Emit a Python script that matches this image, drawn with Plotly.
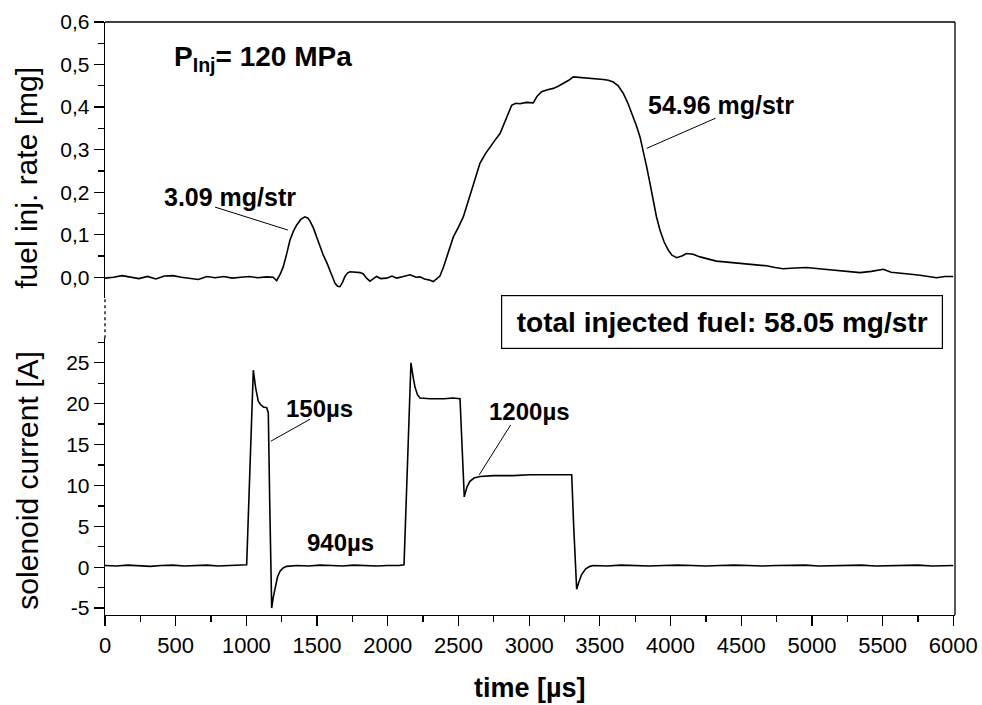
import plotly.graph_objects as go

# ---------------- data ----------------
time_fuel = [0, 60, 120, 180, 240, 300, 360, 420, 480, 540, 600, 660, 720, 780, 840, 900, 960,
             1020, 1080, 1140, 1190, 1214, 1240, 1261, 1285, 1308, 1332, 1356, 1385, 1414, 1435,
             1450, 1475, 1497, 1520, 1544, 1568, 1591, 1610, 1627, 1645, 1662, 1680, 1697, 1715,
             1733, 1760, 1780, 1805, 1827, 1850, 1874, 1900, 1921, 1950, 1992, 2030, 2063, 2110,
             2157, 2200, 2228, 2260, 2290, 2322, 2345, 2369, 2395, 2417, 2440, 2464, 2500, 2534,
             2570, 2605, 2630, 2652, 2690, 2723, 2760, 2794, 2820, 2841, 2860, 2876, 2905, 2935,
             2980, 3029, 3055, 3088, 3130, 3171, 3205, 3242, 3280, 3312, 3360, 3407, 3460, 3524,
             3560, 3595, 3630, 3666, 3700, 3737, 3760, 3784, 3808, 3831, 3855, 3878, 3900, 3925,
             3955, 3984, 4010, 4043, 4080, 4113, 4140, 4160, 4208, 4254, 4290, 4325, 4400, 4491,
             4580, 4679, 4740, 4797, 4880, 4962, 5050, 5151, 5250, 5340, 5420, 5505, 5560, 5623,
             5700, 5764, 5820, 5882, 5940, 6000]
fuel_rate = [-0.002, 0.000, 0.004, 0.001, -0.003, 0.002, -0.004, 0.003, 0.004, 0.000, -0.003,
             -0.005, 0.002, -0.001, 0.002, -0.002, 0.000, 0.002, -0.001, 0.001, 0.000, -0.008,
             0.008, 0.025, 0.055, 0.087, 0.108, 0.123, 0.136, 0.142, 0.139, 0.132, 0.115, 0.095,
             0.073, 0.052, 0.035, 0.018, 0.000, -0.014, -0.021, -0.022, -0.012, 0.002, 0.010,
             0.013, 0.012, 0.013, 0.011, 0.008, -0.002, -0.009, -0.002, 0.002, -0.003, -0.002,
             0.003, -0.002, 0.002, 0.006, 0.000, 0.001, -0.004, -0.006, -0.010, -0.004, 0.003,
             0.025, 0.048, 0.075, 0.095, 0.118, 0.142, 0.180, 0.220, 0.248, 0.268, 0.290, 0.307,
             0.323, 0.338, 0.360, 0.377, 0.395, 0.404, 0.409, 0.408, 0.411, 0.410, 0.425, 0.436,
             0.441, 0.444, 0.449, 0.455, 0.463, 0.471, 0.470, 0.469, 0.467, 0.465, 0.463, 0.459,
             0.450, 0.432, 0.408, 0.377, 0.355, 0.330, 0.296, 0.260, 0.220, 0.181, 0.143, 0.111,
             0.083, 0.064, 0.052, 0.046, 0.050, 0.056, 0.055, 0.054, 0.048, 0.045, 0.041, 0.038,
             0.036, 0.033, 0.030, 0.027, 0.023, 0.020, 0.022, 0.023, 0.020, 0.017, 0.015, 0.011,
             0.014, 0.019, 0.012, 0.009, 0.007, 0.005, 0.002, -0.001, 0.002, 0.002]

time_current = [0, 80, 160, 240, 320, 400, 480, 560, 640, 720, 800, 880, 960, 1002, 1025, 1049,
                1065, 1084, 1100, 1120, 1144, 1155, 1165, 1179, 1190, 1202, 1220, 1238, 1260,
                1285, 1360, 1440, 1520, 1600, 1680, 1760, 1840, 1920, 2000, 2080, 2115, 2140,
                2164, 2180, 2193, 2210, 2228, 2300, 2400, 2460, 2511, 2520, 2541, 2560, 2581,
                2610, 2652, 2750, 2888, 3000, 3150, 3301, 3315, 3336, 3350, 3371, 3400, 3430,
                3454, 3550, 3650, 3750, 3850, 3950, 4050, 4150, 4250, 4350, 4450, 4550, 4650,
                4750, 4850, 4950, 5050, 5150, 5250, 5350, 5450, 5550, 5650, 5750, 5850, 5950, 6000]
current = [0.2, 0.15, 0.25, 0.2, 0.1, 0.2, 0.25, 0.15, 0.2, 0.25, 0.15, 0.2, 0.2, 0.3, 12.0, 24.1,
           22.0, 20.3, 19.9, 19.6, 19.5, 18.9, 8.0, -5.0, -3.7, -2.5, -1.2, -0.5, -0.1,
           0.1, 0.2, 0.15, 0.25, 0.2, 0.15, 0.25, 0.2, 0.15, 0.2, 0.2, 0.3, 12.5,
           25.0, 23.2, 22.0, 21.1, 20.7, 20.6, 20.6, 20.7, 20.6, 17.0, 8.6, 9.8, 10.5,
           10.9, 11.1, 11.2, 11.2, 11.3, 11.3, 11.3, 5.0, -2.7, -1.9, -0.9, -0.2, 0.1,
           0.2, 0.15, 0.25, 0.2, 0.15, 0.2, 0.25, 0.2, 0.15, 0.2, 0.25, 0.2, 0.15,
           0.2, 0.2, 0.25, 0.15, 0.2, 0.2, 0.25, 0.15, 0.2, 0.2, 0.25, 0.15, 0.2, 0.2]

x_tick_vals = [0, 500, 1000, 1500, 2000, 2500, 3000, 3500, 4000, 4500, 5000, 5500, 6000]
x_tick_text = ["0", "500", "1000", "1500", "2000", "2500", "3000", "3500", "4000", "4500",
               "5000", "5500", "6000"]
x_minor_vals = [250, 750, 1250, 1750, 2250, 2750, 3250, 3750, 4250, 4750, 5250, 5750]
fuel_tick_vals = [0.0, 0.1, 0.2, 0.3, 0.4, 0.5, 0.6]
fuel_tick_text = ["0,0", "0,1", "0,2", "0,3", "0,4", "0,5", "0,6"]
fuel_minor_vals = [-0.05, 0.05, 0.15, 0.25, 0.35, 0.45, 0.55]
cur_tick_vals = [-5, 0, 5, 10, 15, 20, 25]
cur_tick_text = ["-5", "0", "5", "10", "15", "20", "25"]
cur_minor_vals = [-2.5, 2.5, 7.5, 12.5, 17.5, 22.5, 27.5]

# ---------------- figure ----------------
FONT = "Liberation Sans, Arial, Helvetica, sans-serif"
BLACK = "black"

fig = go.Figure()
fig.add_trace(go.Scatter(x=time_fuel, y=fuel_rate, xaxis="x2", yaxis="y2", mode="lines",
                         line=dict(color=BLACK, width=1.6), showlegend=False, hoverinfo="skip"))
fig.add_trace(go.Scatter(x=time_current, y=current, xaxis="x", yaxis="y", mode="lines",
                         line=dict(color=BLACK, width=1.6), showlegend=False, hoverinfo="skip"))

BOT_TOP = 0.4666
TOP_BOT = 0.5346

axis_common = dict(showgrid=False, zeroline=False, showline=True, linecolor=BLACK, linewidth=1.3,
                   ticks="outside", ticklen=10, tickwidth=1.3, tickcolor=BLACK,
                   tickmode="array", automargin=False)

fig.update_layout(
    width=982, height=705,
    margin=dict(l=105, r=27, t=22, b=90),
    paper_bgcolor="white", plot_bgcolor="white",
    font=dict(family=FONT, color=BLACK),
    hovermode=False,
    xaxis=dict(domain=[0, 1], range=[0, 6012], anchor="y", tickvals=x_tick_vals,
               ticktext=x_tick_text, tickfont=dict(family=FONT, size=22, color=BLACK),
               minor=dict(tickmode="array", tickvals=x_minor_vals, ticks="outside", ticklen=6,
                          tickwidth=1.3, tickcolor=BLACK),
               **axis_common),
    xaxis2=dict(domain=[0, 1], range=[0, 6012], anchor="y2", matches="x", visible=False),
    yaxis=dict(domain=[0, BOT_TOP], range=[-5.85, 28.0], anchor="x", tickvals=cur_tick_vals,
               ticktext=cur_tick_text, tickfont=dict(family=FONT, size=21, color=BLACK),
               minor=dict(tickmode="array", tickvals=cur_minor_vals, ticks="outside", ticklen=6,
                          tickwidth=1.3, tickcolor=BLACK),
               **axis_common),
    yaxis2=dict(domain=[TOP_BOT, 1], range=[-0.0486, 0.6], anchor="x2", tickvals=fuel_tick_vals,
                ticktext=fuel_tick_text, tickfont=dict(family=FONT, size=21, color=BLACK),
                minor=dict(tickmode="array", tickvals=fuel_minor_vals, ticks="outside", ticklen=6,
                           tickwidth=1.3, tickcolor=BLACK),
                **axis_common),
)

shapes = [
    # frame: top and right, dotted axis break
    dict(type="line", xref="paper", yref="paper", x0=0, x1=1, y0=1, y1=1,
         line=dict(color=BLACK, width=1.3)),
    dict(type="line", xref="paper", yref="paper", x0=1, x1=1, y0=0, y1=1,
         line=dict(color=BLACK, width=1.3)),
    dict(type="line", xref="paper", yref="paper", x0=0, x1=0, y0=BOT_TOP, y1=TOP_BOT,
         line=dict(color=BLACK, width=1.3, dash="dot")),
    # leader lines
    dict(type="line", xref="x2", yref="y2", x0=778, y0=0.165, x1=1294, y1=0.111,
         line=dict(color=BLACK, width=1)),
    dict(type="line", xref="x2", yref="y2", x0=4319, y0=0.374, x1=3831, y1=0.303,
         line=dict(color=BLACK, width=1)),
    dict(type="line", xref="x", yref="y", x0=1450, y0=18.1, x1=1172, y1=15.4,
         line=dict(color=BLACK, width=1)),
    dict(type="line", xref="x", yref="y", x0=2869, y0=17.4, x1=2647, y1=11.3,
         line=dict(color=BLACK, width=1)),
]

bold = lambda s: "<b>" + s + "</b>"
annotations = [
    dict(text=bold("P<sub>Inj</sub>= 120 MPa"), xref="x2", yref="y2", x=472, y=0.515,
         xanchor="left", yanchor="middle", showarrow=False, font=dict(size=28)),
    dict(text=bold("3.09 mg/str"), xref="x2", yref="y2", x=884, y=0.189,
         xanchor="center", yanchor="middle", showarrow=False, font=dict(size=25)),
    dict(text=bold("54.96 mg/str"), xref="x2", yref="y2", x=4357, y=0.405,
         xanchor="center", yanchor="middle", showarrow=False, font=dict(size=25)),
    dict(text=bold("total injected fuel: 58.05 mg/str"), xref="paper", yref="paper",
         x=0.7255, y=0.4933, xanchor="center", yanchor="middle", showarrow=False,
         font=dict(size=28), width=432, height=44,
         borderpad=4, bordercolor=BLACK, borderwidth=1.2, bgcolor="white"),
    dict(text=bold("150µs"), xref="x", yref="y", x=1517, y=19.4, showarrow=False,
         xanchor="center", yanchor="middle", font=dict(size=24)),
    dict(text=bold("940µs"), xref="x", yref="y", x=1666, y=3.0, showarrow=False,
         xanchor="center", yanchor="middle", font=dict(size=24)),
    dict(text=bold("1200µs"), xref="x", yref="y", x=3002, y=19.0, showarrow=False,
         xanchor="center", yanchor="middle", font=dict(size=24)),
    # axis titles
    dict(text="fuel inj. rate [mg]", xref="paper", yref="paper", x=-0.092, y=0.737,
         textangle=-90, showarrow=False, font=dict(size=30), xanchor="center", yanchor="middle"),
    dict(text="solenoid current [A]", xref="paper", yref="paper", x=-0.091, y=0.226,
         textangle=-90, showarrow=False, font=dict(size=30), xanchor="center", yanchor="middle"),
    dict(text=bold("time [µs]"), xref="paper", yref="paper", x=0.5, y=-0.123,
         showarrow=False, font=dict(size=27), xanchor="center", yanchor="middle"),
]
fig.update_layout(shapes=shapes, annotations=annotations)

# remove the default page margin so the figure sits at the window's top-left corner
fig.write_html("out.html", config={"displayModeBar": False, "staticPlot": True},
               post_script="document.body.style.margin='0';document.body.style.overflow='hidden';")
